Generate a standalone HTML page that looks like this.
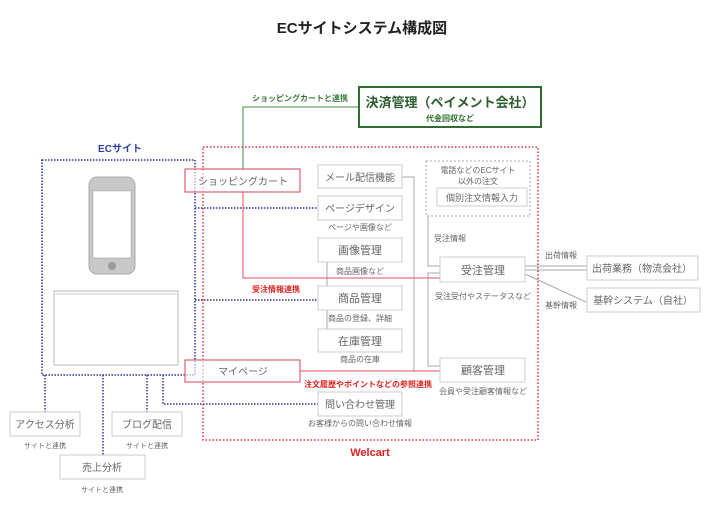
<!DOCTYPE html>
<html><head><meta charset="utf-8"><style>
html,body{margin:0;padding:0;background:#fff;}
svg{display:block;font-family:"Liberation Sans","Noto Sans CJK JP",sans-serif;}
</style></head><body>
<svg width="724" height="511" viewBox="0 0 724 511" xmlns="http://www.w3.org/2000/svg">
<rect width="724" height="511" fill="#fff"/>
<text x="362" y="33" font-size="15" font-weight="bold" text-anchor="middle" fill="#222">ECサイトシステム構成図</text>

<polyline points="359,107 243,107 243,170" fill="none" stroke="#4a8a4a" stroke-width="1"/>
<text x="300" y="101" font-size="8" fill="#3a7a3a" text-anchor="middle" font-weight="bold">ショッピングカートと連携</text>
<rect x="359" y="87" width="182" height="40" fill="#fff" stroke="#2e6e30" stroke-width="2"/>
<text x="450" y="107" font-size="13" font-weight="bold" fill="#2e5e2e" text-anchor="middle">決済管理（ペイメント会社）</text>
<text x="450" y="121" font-size="8" font-weight="bold" fill="#2e6e2e" text-anchor="middle">代金回収など</text>

<rect x="203" y="147" width="335" height="293" fill="none" stroke="#e03040" stroke-width="1.5" stroke-dasharray="1.5,2"/>
<text x="370" y="456" font-size="11" font-weight="bold" fill="#e02020" text-anchor="middle">Welcart</text>

<text x="120" y="152" font-size="10" font-weight="bold" fill="#3040a0" text-anchor="middle">ECサイト</text>
<rect x="42" y="160" width="153" height="215" fill="none" stroke="#3030a0" stroke-width="1.5" stroke-dasharray="1.5,1.5"/>
<polyline points="195,208 318,208" fill="none" stroke="#3030a0" stroke-width="1.5" stroke-dasharray="1.5,1.5"/>
<polyline points="195,300 318,300" fill="none" stroke="#3030a0" stroke-width="1.5" stroke-dasharray="1.5,1.5"/>
<polyline points="163,375 163,404 318,404" fill="none" stroke="#3030a0" stroke-width="1.5" stroke-dasharray="1.5,1.5"/>
<polyline points="45,375 45,412" fill="none" stroke="#3030a0" stroke-width="1.5" stroke-dasharray="1.5,1.5"/>
<polyline points="103,375 103,455" fill="none" stroke="#3030a0" stroke-width="1.5" stroke-dasharray="1.5,1.5"/>
<polyline points="147,375 147,412" fill="none" stroke="#3030a0" stroke-width="1.5" stroke-dasharray="1.5,1.5"/>

<rect x="89" y="177" width="46" height="97" rx="8" fill="#c8c8c8" stroke="#aaa"/>
<rect x="93" y="191" width="38" height="67" fill="#fff" stroke="#999" stroke-width="0.5"/>
<circle cx="112" cy="266" r="4" fill="#999"/>
<rect x="54" y="291" width="124" height="74" fill="#fff" stroke="#bbb"/>
<line x1="54" y1="294" x2="178" y2="294" stroke="#ccc"/>

<g fill="none" stroke="#aaa" stroke-width="1">
<polyline points="402,177 414,177 414,371 440,371"/>
<polyline points="428,216 428,266 440,266"/>
<polyline points="440,273 428,273 428,366 440,366"/>
<line x1="327" y1="262" x2="327" y2="329"/>
<line x1="525" y1="266" x2="587" y2="266"/>
<line x1="525" y1="270" x2="587" y2="270"/>
<line x1="525" y1="274" x2="586" y2="302"/>
</g>

<polyline points="243,191 243,278 440,278" fill="none" stroke="#e05060" stroke-width="1"/>
<line x1="300" y1="371" x2="440" y2="371" stroke="#e05060" stroke-width="1"/>
<text x="276" y="292" font-size="8" font-weight="bold" fill="#e02020" text-anchor="middle">受注情報連携</text>
<text x="368" y="387" font-size="8" font-weight="bold" fill="#e02020" text-anchor="middle">注文履歴やポイントなどの参照連携</text>

<rect x="185" y="169" width="115" height="23" fill="#fff" fill-opacity="0.6" stroke="#e06070" stroke-width="1.2"/>
<text x="243" y="185" font-size="10" fill="#666" text-anchor="middle">ショッピングカート</text>
<rect x="185" y="360" width="115" height="22" fill="#fff" fill-opacity="0.6" stroke="#e06070" stroke-width="1.2"/>
<text x="243" y="375" font-size="10" fill="#666" text-anchor="middle">マイページ</text>

<g fill="#fff" stroke="#ccc" stroke-width="1">
<rect x="318" y="165" width="84" height="23"/>
<rect x="318" y="196" width="84" height="24"/>
<rect x="318" y="238" width="84" height="24"/>
<rect x="318" y="286" width="84" height="24"/>
<rect x="318" y="329" width="84" height="23"/>
<rect x="318" y="392" width="84" height="24"/>
<rect x="440" y="257" width="85" height="25"/>
<rect x="440" y="358" width="85" height="24"/>
<rect x="587" y="256" width="111" height="24"/>
<rect x="587" y="288" width="113" height="24"/>
<rect x="437" y="188" width="90" height="18"/>
<rect x="10" y="412" width="70" height="24"/>
<rect x="112" y="412" width="70" height="24"/>
<rect x="60" y="455" width="85" height="24"/>
</g>
<rect x="426" y="161" width="104" height="55" fill="none" stroke="#aaa" stroke-dasharray="2,2"/>

<g fill="#666" text-anchor="middle">
<text x="360" y="181" font-size="10">メール配信機能</text>
<text x="360" y="212" font-size="10">ページデザイン</text>
<text x="360" y="230" font-size="8">ページや画像など</text>
<text x="360" y="254" font-size="11">画像管理</text>
<text x="360" y="274" font-size="8">商品画像など</text>
<text x="360" y="302" font-size="11">商品管理</text>
<text x="360" y="321" font-size="8">商品の登録、詳細</text>
<text x="360" y="345" font-size="11">在庫管理</text>
<text x="360" y="362" font-size="8">商品の在庫</text>
<text x="360" y="408" font-size="10">問い合わせ管理</text>
<text x="360" y="426" font-size="8">お客様からの問い合わせ情報</text>
<text x="478" y="173" font-size="8">電話などのECサイト</text>
<text x="478" y="184" font-size="8">以外の注文</text>
<text x="482" y="201" font-size="9">個別注文情報入力</text>
<text x="450" y="241" font-size="8">受注情報</text>
<text x="483" y="274" font-size="11">受注管理</text>
<text x="483" y="299" font-size="8">受注受付やステータスなど</text>
<text x="483" y="374" font-size="11">顧客管理</text>
<text x="483" y="394" font-size="8">会員や受注顧客情報など</text>
<text x="561" y="258" font-size="8">出荷情報</text>
<text x="561" y="308" font-size="8">基幹情報</text>
<text x="642" y="272" font-size="10">出荷業務（物流会社）</text>
<text x="643" y="304" font-size="10">基幹システム（自社）</text>
<text x="45" y="428" font-size="10">アクセス分析</text>
<text x="147" y="428" font-size="10">ブログ配信</text>
<text x="102" y="471" font-size="10">売上分析</text>
<text x="45" y="448" font-size="7">サイトと連携</text>
<text x="147" y="448" font-size="7">サイトと連携</text>
<text x="102" y="492" font-size="7">サイトと連携</text>
</g>
</svg>
</body></html>
